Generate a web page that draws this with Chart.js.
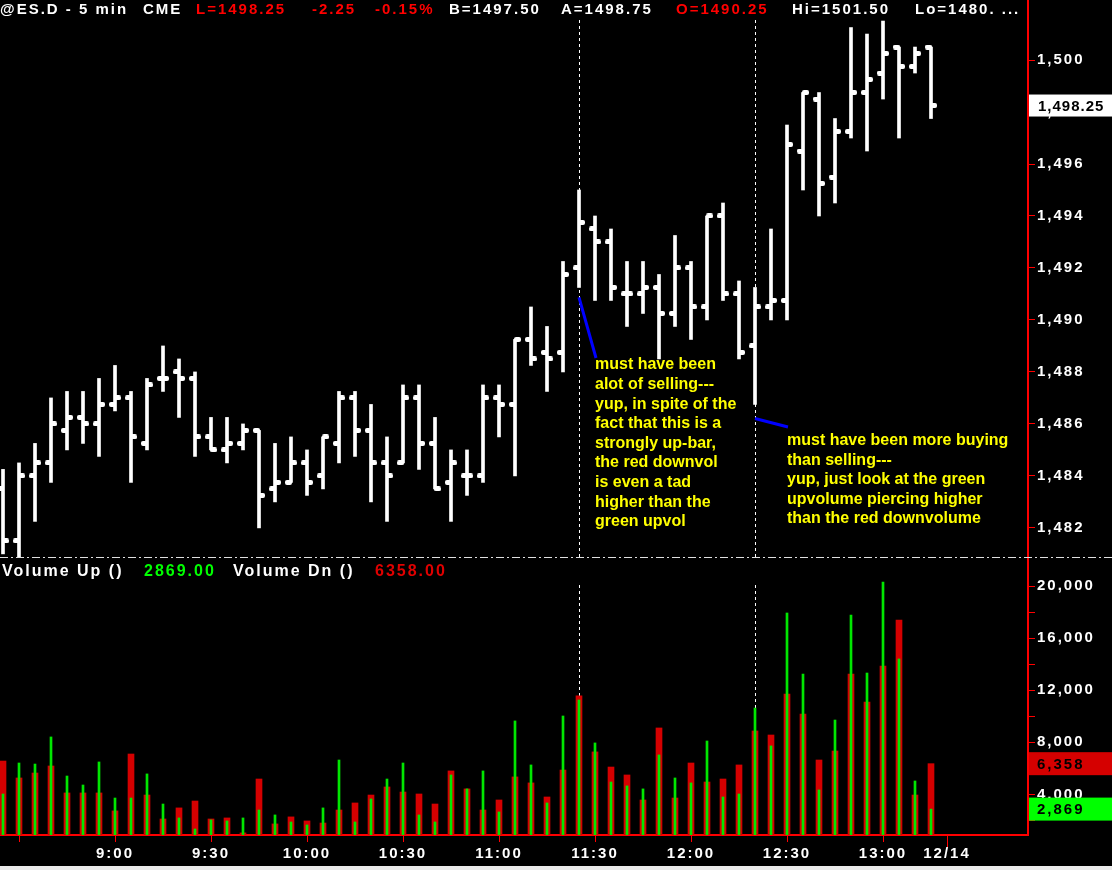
<!DOCTYPE html>
<html>
<head>
<meta charset="utf-8">
<script src="https://cdn.jsdelivr.net/npm/chart.js@4.4.0/dist/chart.umd.min.js"></script>
<style>
  html, body { margin: 0; padding: 0; background: #000; }
  #wrap { position: relative; width: 1112px; height: 870px; background: #000; overflow: hidden; }
  canvas { position: absolute; left: 0; display: block; }
  #priceChart { top: 0; }
  #volChart { top: 557px; }
</style>
</head>
<body>
<div id="wrap">
  <canvas id="priceChart" width="1112" height="557"></canvas>
  <canvas id="volChart" width="1112" height="313"></canvas>
</div>
<script>
// 5 min bars, @ES.D, one per bar index
const opens = [1483.5, 1481.5, 1484.0, 1484.5, 1485.75, 1486.25, 1486.0, 1486.75, 1487.0, 1485.25,
  1487.75, 1488.0, 1487.75, 1485.5, 1485.0, 1485.25, 1485.75, 1483.5, 1483.75, 1484.5,
  1484.0, 1485.25, 1487.0, 1485.75, 1484.5, 1484.5, 1487.0, 1485.25, 1483.75, 1484.0,
  1484.0, 1487.0, 1486.75, 1489.25, 1488.75, 1488.75, 1492.0, 1493.5, 1493.0, 1491.0,
  1491.0, 1491.25, 1490.25, 1492.0, 1490.5, 1494.0, 1491.0, 1489.0, 1490.5, 1490.75,
  1496.5, 1498.5, 1495.5, 1497.25, 1498.75, 1499.5, 1500.5, 1499.75, 1500.5];
const highs = [1484.25, 1484.5, 1485.25, 1487.0, 1487.25, 1487.25, 1487.75, 1488.25, 1487.25, 1487.75,
  1489.0, 1488.5, 1488.0, 1486.25, 1486.25, 1486.0, 1485.75, 1485.25, 1485.5, 1485.0,
  1485.5, 1487.25, 1487.25, 1486.75, 1485.5, 1487.5, 1487.5, 1486.25, 1485.0, 1485.0,
  1487.5, 1487.5, 1489.25, 1490.5, 1489.75, 1492.25, 1495.0, 1494.0, 1493.5, 1492.25,
  1492.25, 1491.75, 1493.25, 1492.25, 1494.0, 1494.5, 1491.5, 1491.25, 1493.5, 1497.5,
  1498.75, 1498.75, 1497.75, 1501.25, 1501.0, 1501.5, 1500.5, 1500.5, 1500.5];
const lows = [1481.0, 1480.5, 1482.25, 1483.75, 1485.0, 1485.25, 1484.75, 1486.5, 1483.75, 1485.0,
  1487.25, 1486.25, 1484.75, 1485.0, 1484.5, 1485.0, 1482.0, 1483.0, 1483.75, 1483.25,
  1483.5, 1484.5, 1484.75, 1483.0, 1482.25, 1484.5, 1484.25, 1483.5, 1482.25, 1483.25,
  1483.75, 1485.5, 1484.0, 1488.25, 1487.25, 1488.0, 1491.25, 1490.75, 1490.75, 1489.75,
  1490.25, 1488.5, 1489.75, 1489.25, 1490.0, 1490.75, 1488.5, 1486.75, 1490.0, 1490.0,
  1495.0, 1494.0, 1494.5, 1497.0, 1496.5, 1498.5, 1497.0, 1499.5, 1497.75];
const closes = [1481.5, 1484.0, 1484.5, 1486.0, 1486.25, 1486.0, 1486.75, 1487.0, 1485.5, 1487.5,
  1487.75, 1487.75, 1485.5, 1485.0, 1485.25, 1485.75, 1483.25, 1483.75, 1484.5, 1483.75,
  1485.5, 1487.0, 1485.75, 1484.5, 1484.0, 1487.0, 1485.25, 1483.5, 1484.5, 1484.0,
  1487.0, 1486.75, 1489.25, 1488.5, 1488.5, 1491.75, 1493.75, 1493.0, 1491.25, 1491.0,
  1491.25, 1490.25, 1492.0, 1490.5, 1494.0, 1491.0, 1488.75, 1490.5, 1490.75, 1496.75,
  1498.75, 1495.25, 1497.25, 1498.75, 1499.25, 1500.25, 1499.75, 1500.25, 1498.25];

const volDown = [6560, 5260, 5640, 6180, 4110, 4110, 4110, 2730, 7100, 3950,
  2110, 2960, 3490, 2110, 2190, 1040, 5180, 1730, 2270, 1960,
  1800, 2800, 3340, 3950, 4570, 4180, 4030, 3260, 5800, 4420,
  2800, 3570, 5340, 4880, 3800, 5870, 11560, 7260, 6100, 5490,
  3570, 9100, 3720, 6410, 4950, 5180, 6260, 8870, 8560, 11710,
  10170, 6640, 7330, 13240, 11090, 13860, 17390, 3950, 6358];
const volUp = [4030, 6410, 6330, 8410, 5410, 4720, 6490, 3720, 3720, 5570,
  3260, 2190, 1340, 2040, 1960, 2190, 2800, 2420, 1880, 1650,
  2960, 6640, 1880, 3650, 5180, 6410, 2420, 1880, 5490, 4420,
  5800, 2650, 9640, 6260, 3340, 10020, 11250, 7950, 4950, 4650,
  4420, 7030, 5260, 4880, 8100, 3800, 4030, 10630, 7720, 17930,
  13240, 4340, 9710, 17770, 13320, 20310, 14400, 5030, 2869];

const priceTicks = [1482, 1484, 1486, 1488, 1490, 1492, 1494, 1496, 1498, 1500];
const volTicks = [2000, 4000, 6000, 8000, 10000, 12000, 14000, 16000, 18000, 20000];
const timeTickIdx = [1, 7, 13, 19, 25, 31, 37, 43, 49, 55, 59];
const timeTickText = ['', '9:00', '9:30', '10:00', '10:30', '11:00', '11:30', '12:00', '12:30', '13:00', '12/14'];
const markedBars = [36, 47];
const dayBreakIdx = 59;

const noteSell = ['must have been', 'alot of selling---', 'yup, in spite of the', 'fact that this is a',
  'strongly up-bar,', 'the red downvol', 'is even a tad', 'higher than the', 'green upvol'];
const noteBuy = ['must have been more buying', 'than selling---', 'yup, just look at the green',
  'upvolume piercing higher', 'than the red downvolume'];

const FONT = "'Liberation Sans', Arial, sans-serif";
const RED = '#ff0000';
const xMin = -0.1875, xMax = 64.0625;

function fixAxisY(s) { s.width = 84; s.paddingTop = 0; s.paddingBottom = 0; }
function fixAxisX(s) { s.height = 35; s.paddingLeft = 0; s.paddingRight = 0; }
const fmt = v => v.toLocaleString('en-US');

const blackBg = {
  id: 'blackBg',
  beforeDraw(chart) {
    const c = chart.ctx;
    c.save();
    c.fillStyle = '#000';
    c.fillRect(0, 0, chart.width, chart.height);
    c.restore();
    c.letterSpacing = '2px';
  }
};

function dashedMarks(chart, top) {
  const c = chart.ctx, x = chart.scales.x;
  c.save();
  c.strokeStyle = '#ffffff';
  c.lineWidth = 1;
  c.setLineDash([3, 3]);
  markedBars.forEach(i => {
    const px = Math.round(x.getPixelForValue(i)) + 0.5;
    c.beginPath();
    c.moveTo(px, top);
    c.lineTo(px, chart.chartArea.bottom);
    c.stroke();
  });
  c.restore();
}

// small rounded blob used for the open / close ticks
const blob = document.createElement('canvas');
blob.width = 7; blob.height = 5;
(function () {
  const b = blob.getContext('2d');
  b.fillStyle = '#ffffff';
  b.beginPath();
  b.roundRect(0, 0, 7, 5, 2);
  b.fill();
})();

const tickPoint = {
  type: 'scatter',
  pointStyle: blob,
  pointRadius: 4
};

// price panel
new Chart(document.getElementById('priceChart'), {
  type: 'bar',
  data: {
    datasets: [{
      label: 'range',
      data: highs.map((h, i) => ({ x: i, y: [lows[i], h] })),
      backgroundColor: '#ffffff',
      borderWidth: 0,
      barThickness: 3
    }, Object.assign({
      label: 'open',
      data: opens.map((o, i) => ({ x: i - 0.16, y: o }))
    }, tickPoint), Object.assign({
      label: 'close',
      data: closes.map((cl, i) => ({ x: i + 0.16, y: cl }))
    }, tickPoint)]
  },
  options: {
    responsive: false,
    animation: false,
    events: [],
    layout: { padding: 0, autoPadding: false },
    plugins: { legend: { display: false }, tooltip: { enabled: false } },
    scales: {
      x: { type: 'linear', min: xMin, max: xMax, offset: false, grid: { offset: false }, display: false },
      y: {
        position: 'right',
        min: 1480.88,
        max: 1502.31,
        afterBuildTicks: s => { s.ticks = priceTicks.map(v => ({ value: v })); },
        afterFit: fixAxisY,
        border: { color: RED, width: 2 },
        grid: { drawOnChartArea: false, color: RED, tickLength: 7 },
        ticks: { color: '#ffffff', padding: 2, font: { family: FONT, size: 15, weight: 'bold' }, callback: fmt }
      }
    }
  },
  plugins: [blackBg, {
    id: 'priceDecor',
    beforeDatasetsDraw(chart) { dashedMarks(chart, 20); },
    afterDraw(chart) {
      const c = chart.ctx, x = chart.scales.x, y = chart.scales.y;
      c.save();
      // header line
      c.letterSpacing = '2px';
      c.font = 'bold 15px ' + FONT;
      c.textBaseline = 'middle';
      [['@ES.D - 5 min', 0, '#fff'], ['CME', 143, '#fff'], ['L=1498.25', 196, RED], ['-2.25', 312, RED],
       ['-0.15%', 375, RED], ['B=1497.50', 449, '#fff'], ['A=1498.75', 561, '#fff'], ['O=1490.25', 676, RED],
       ['Hi=1501.50', 792, '#fff'], ['Lo=1480. ...', 915, '#fff']].forEach(([t, px, col]) => {
        c.fillStyle = col;
        c.fillText(t, px, 10);
      });
      // last price box
      const lp = y.getPixelForValue(closes[closes.length - 1]);
      c.fillStyle = '#ffffff';
      c.fillRect(chart.chartArea.right + 1, lp - 11, 84, 22);
      c.fillStyle = '#000000';
      c.letterSpacing = '1px';
      c.fillText(closes[closes.length - 1].toLocaleString('en-US', { minimumFractionDigits: 2 }), 1038, lp + 1);
      // annotation pointers
      c.strokeStyle = '#0000ff';
      c.lineWidth = 3;
      c.beginPath();
      c.moveTo(x.getPixelForValue(36), y.getPixelForValue(lows[36]) + 10);
      c.lineTo(596, 358);
      c.moveTo(x.getPixelForValue(47), y.getPixelForValue(lows[47]) + 14);
      c.lineTo(788, 427);
      c.stroke();
      // annotation text
      c.letterSpacing = '0px';
      c.font = 'bold 16px ' + FONT;
      c.fillStyle = '#ffff00';
      noteSell.forEach((t, k) => c.fillText(t, 595, 365 + k * 19.6));
      noteBuy.forEach((t, k) => c.fillText(t, 787, 441 + k * 19.4));
      c.restore();
    }
  }]
});

// volume panel
new Chart(document.getElementById('volChart'), {
  type: 'bar',
  data: {
    datasets: [{
      label: 'Volume Up',
      data: volUp.map((v, i) => ({ x: i, y: v })),
      backgroundColor: '#00e600',
      barThickness: 2,
      grouped: false,
      order: 0
    }, {
      label: 'Volume Dn',
      data: volDown.map((v, i) => ({ x: i, y: v })),
      backgroundColor: '#d50000',
      barThickness: 6,
      grouped: false,
      order: 1
    }]
  },
  options: {
    responsive: false,
    animation: false,
    events: [],
    layout: { padding: 0, autoPadding: false },
    plugins: { legend: { display: false }, tooltip: { enabled: false } },
    scales: {
      x: {
        type: 'linear',
        min: xMin,
        max: xMax,
        offset: false,
        afterBuildTicks: s => { s.ticks = timeTickIdx.map(v => ({ value: v })); },
        afterFit: fixAxisX,
        border: { color: RED, width: 2 },
        grid: { drawOnChartArea: false, offset: false, color: RED, tickLength: 7 },
        ticks: {
          color: '#ffffff', padding: 3, maxRotation: 0, autoSkip: false,
          font: { family: FONT, size: 15, weight: 'bold' },
          callback: v => timeTickText[timeTickIdx.indexOf(v)] || ''
        }
      },
      y: {
        position: 'right',
        min: 880,
        max: 22230,
        afterBuildTicks: s => { s.ticks = volTicks.map(v => ({ value: v })); },
        afterFit: fixAxisY,
        border: { color: RED, width: 2 },
        grid: { drawOnChartArea: false, color: RED, tickLength: 7 },
        ticks: {
          color: '#ffffff', padding: 2,
          font: { family: FONT, size: 15, weight: 'bold' },
          callback: v => (v % 4000 === 0 ? fmt(v) : '')
        }
      }
    }
  },
  plugins: [blackBg, {
    id: 'volDecor',
    beforeDatasetsDraw(chart) { dashedMarks(chart, 28); },
    afterDraw(chart) {
      const c = chart.ctx, x = chart.scales.x, y = chart.scales.y;
      const last = volUp.length - 1;
      c.save();
      // panel separator
      c.strokeStyle = '#e0e0e0';
      c.lineWidth = 1;
      c.setLineDash([8, 3, 2, 3]);
      c.beginPath();
      c.moveTo(0, 0.5);
      c.lineTo(chart.width, 0.5);
      c.stroke();
      c.setLineDash([]);
      // longer tick at the date change
      const dx = Math.round(x.getPixelForValue(dayBreakIdx)) + 0.5;
      c.strokeStyle = RED;
      c.beginPath();
      c.moveTo(dx, chart.chartArea.bottom);
      c.lineTo(dx, chart.chartArea.bottom + 12);
      c.stroke();
      // study header
      c.letterSpacing = '2px';
      c.font = 'bold 16px ' + FONT;
      c.textBaseline = 'middle';
      [['Volume Up ()', 2, '#fff'], [volUp[last].toFixed(2), 144, '#00ff00'],
       ['Volume Dn ()', 233, '#fff'], [volDown[last].toFixed(2), 375, '#e00000']].forEach(([t, px, col]) => {
        c.fillStyle = col;
        c.fillText(t, px, 15);
      });
      // last value boxes
      c.font = 'bold 15px ' + FONT;
      [[volDown[last], '#d50000'], [volUp[last], '#00ff00']].forEach(([v, col]) => {
        const py = y.getPixelForValue(v);
        c.fillStyle = col;
        c.fillRect(chart.chartArea.right + 1, py - 11.5, 84, 23);
        c.fillStyle = '#000000';
        c.fillText(fmt(v), 1037, py + 1);
      });
      // window edge strip
      c.fillStyle = '#ebebeb';
      c.fillRect(0, chart.height - 4, chart.width, 4);
      c.restore();
    }
  }]
});
</script>
</body>
</html>
